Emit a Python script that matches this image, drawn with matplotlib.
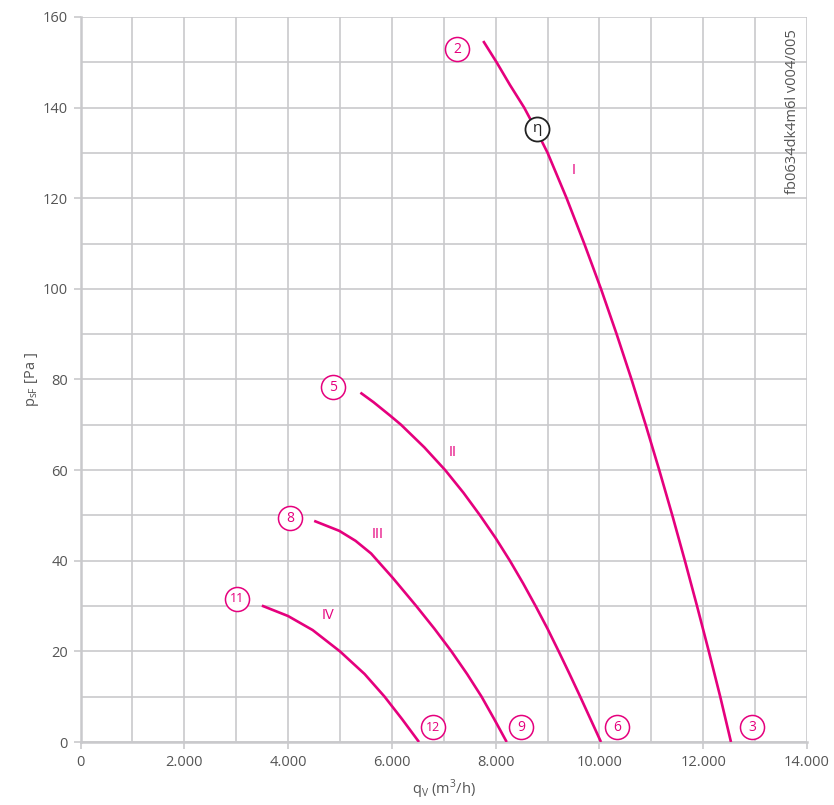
import matplotlib
matplotlib.use("Agg")
import matplotlib.pyplot as plt
import numpy as np

# fan curves: q in m3/h, p in Pa
q_I = [7761, 8019, 8276, 8550, 8783, 9002, 9368, 9707, 10030, 10332, 10619, 10891,
       11153, 11405, 11647, 11881, 12108, 12328, 12535]
p_I = [154.7, 150, 145, 140, 135, 130, 120, 110, 100, 90, 80, 70, 60, 50, 40, 30, 20, 10, 0]
q_II = [5394, 5646, 5970, 6178, 6628, 7028, 7380, 7700, 8000, 8275, 8530, 8770,
        9000, 9215, 9425, 9630, 9830, 10030]
p_II = [77.1, 75, 72, 70, 65, 60, 55, 50, 45, 40, 35, 30, 25, 20, 15, 10, 5, 0]
q_III = [4503, 4987, 5300, 5600, 6019, 6471, 6820, 7148, 7450, 7729, 7975, 8213]
p_III = [48.8, 46.6, 44.4, 41.6, 36.2, 30.0, 25, 20, 15, 10, 5, 0]
q_IV = [3495, 4000, 4474, 5000, 5475, 5860, 6200, 6523]
p_IV = [30.1, 27.8, 24.7, 20, 15, 10, 5, 0]

# circled operating point numbers
num_labels = ["2", "3", "5", "6", "8", "9", "11", "12"]
num_q = [7255, 12939, 4865, 10337, 4037, 8487, 3015, 6792]
num_p = [152.9, 3.3, 78.3, 3.3, 49.4, 3.3, 31.6, 3.3]

# curve names
roman = ["I", "II", "III", "IV"]
roman_q = [9509, 7177, 5732, 4769]
roman_p = [126.2, 63.8, 45.9, 28.0]

eta_q, eta_p = 8796, 135.3

xticks = [0, 2000, 4000, 6000, 8000, 10000, 12000, 14000]
xtick_labels = ["0", "2.000", "4.000", "6.000", "8.000", "10.000", "12.000", "14.000"]
yticks = [0, 20, 40, 60, 80, 100, 120, 140, 160]

pink = "#e5007d"
grid_c = "#c9c9cc"
txt_c = "#555555"

plt.rcParams['font.family'] = ['Open Sans', 'DejaVu Sans']

fig = plt.figure(figsize=(8.34, 8.05), dpi=100)
ax = fig.add_axes([80.5 / 834, 63 / 805, (807 - 80.5) / 834, (742 - 17) / 805])

ax.set_xlim(0, 14000)
ax.set_ylim(0, 160)
ax.set_xticks(np.arange(0, 14001, 1000), minor=True)
ax.set_yticks(np.arange(0, 161, 10), minor=True)
ax.grid(True, which="both", color=grid_c, lw=1.2)
ax.set_axisbelow(True)
ax.tick_params(which="minor", length=0)
ax.set_xticks(xticks)
ax.set_xticklabels(xtick_labels)
ax.set_yticks(yticks)
ax.tick_params(which="major", length=5, color=grid_c, width=1.2, labelcolor=txt_c, labelsize=10.5, pad=4)
for s in ["top", "right"]:
    ax.spines[s].set_visible(False)
for s in ["left", "bottom"]:
    ax.spines[s].set_color(grid_c)
    ax.spines[s].set_linewidth(1.8)

for q, p in [(q_I, p_I), (q_II, p_II), (q_III, p_III), (q_IV, p_IV)]:
    ax.plot(q, p, color=pink, lw=1.9, solid_capstyle="butt", solid_joinstyle="round", zorder=3)

ax.scatter(num_q, num_p, s=300, facecolor="white", edgecolor=pink, lw=1.1, zorder=4)
for t, q, p in zip(num_labels, num_q, num_p):
    ax.text(q, p, t, color=pink, fontsize=10 if len(t) == 1 else 9, ha="center", va="center", zorder=5)

for t, q, p in zip(roman, roman_q, roman_p):
    ax.text(q, p, t, color=pink, fontsize=10.5, ha="center", va="center")

ax.scatter([eta_q], [eta_p], s=300, facecolor="white", edgecolor="#222222", lw=1.3, zorder=4)
ax.text(eta_q, eta_p, "η", color="#222222", fontsize=11, ha="center", va="center", zorder=5)

ax.set_xlabel("q$_\\mathregular{V}$ (m$^\\mathregular{3}$/h)", color=txt_c, fontsize=10.5, labelpad=6)
ax.set_ylabel("p$_\\mathregular{sF}$ [Pa ]", color=txt_c, fontsize=10.5, labelpad=1)

fig.text(793 / 834, 1 - 112 / 805, "fb0634dk4m6l v004/005", rotation=90, color=txt_c,
         fontsize=10.5, ha="center", va="center")

fig.savefig("out.png", dpi=100)
